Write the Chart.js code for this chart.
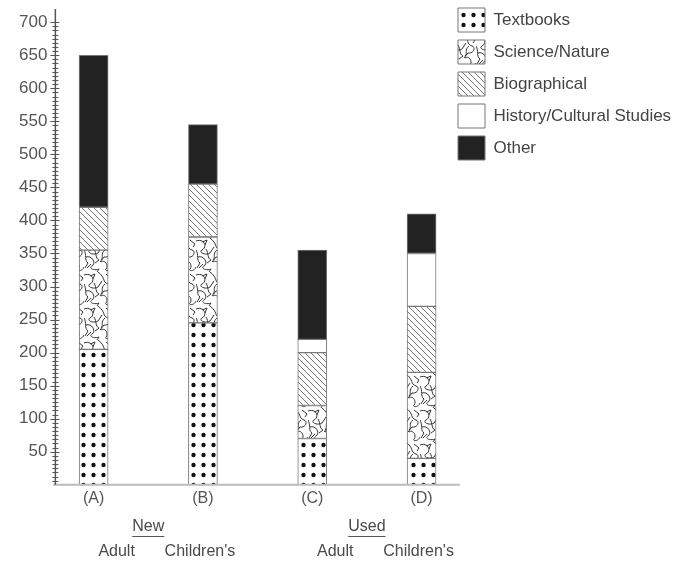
<!DOCTYPE html>
<html>
<head>
<meta charset="utf-8">
<script src="https://cdn.jsdelivr.net/npm/chart.js@4.4.0/dist/chart.umd.min.js"></script>
<style>
html, body { margin: 0; padding: 0; background: #fff; }
</style>
</head>
<body>
<canvas id="chart" width="675" height="563"></canvas>
<script>
// bar positions and labels
var categories = ['(A)', '(B)', '(C)', '(D)'];
var positions = [1, 2, 3, 4];
var groupLabels = ['New', 'Used'];
var subLabels = ['Adult', "Children's", 'Adult', "Children's"];

// stacked segments (number of books)
var seriesNames = ['Textbooks', 'Science/Nature', 'Biographical', 'History/Cultural Studies', 'Other'];
var textbooks = [205, 245, 70, 40];
var scienceNature = [150, 130, 50, 130];
var biographical = [65, 80, 80, 100];
var historyCultural = [0, 0, 20, 80];
var other = [230, 90, 135, 60];

var yTicks = [50, 100, 150, 200, 250, 300, 350, 400, 450, 500, 550, 600, 650, 700];

Chart.defaults.font.family = '"Liberation Sans", Arial, sans-serif';
Chart.defaults.color = '#4a4a4a';

var ctx = document.getElementById('chart').getContext('2d');

function makePattern(w, h, draw) {
	var c = document.createElement('canvas');
	c.width = w;
	c.height = h;
	var g = c.getContext('2d');
	g.fillStyle = '#fff';
	g.fillRect(0, 0, w, h);
	draw(g);
	return ctx.createPattern(c, 'repeat');
}

//点
var dots = makePattern(10, 10, function(g){
	g.fillStyle = '#111';
	g.beginPath();
	g.arc(3.5, 5, 2.2, 0, Math.PI * 2);
	g.fill();
});

//斜线
var hatch = makePattern(6, 6, function(g){
	g.strokeStyle = '#777';
	g.lineWidth = 1;
	g.beginPath();
	g.moveTo(0, 0); g.lineTo(6, 6);
	g.moveTo(-1, 5); g.lineTo(1, 7);
	g.moveTo(5, -1); g.lineTo(7, 1);
	g.stroke();
});

//乱线
var squiggle = makePattern(28, 34, function(g){
	g.strokeStyle = '#333';
	g.lineWidth = 1;
	g.beginPath();
	g.moveTo(0, 3); g.bezierCurveTo(8, 0, 12, 9, 6, 12); g.bezierCurveTo(2, 14, 9, 18, 14, 15); g.lineTo(18, 9);
	g.moveTo(14, 0); g.bezierCurveTo(22, 6, 18, 10, 24, 12); g.bezierCurveTo(28, 13, 26, 20, 20, 19); g.lineTo(16, 24);
	g.moveTo(2, 19); g.bezierCurveTo(9, 17, 12, 26, 8, 28); g.bezierCurveTo(4, 30, 10, 33, 15, 31); g.lineTo(13, 34);
	g.moveTo(17, 24); g.bezierCurveTo(21, 21, 25, 28, 22, 31); g.bezierCurveTo(20, 33, 26, 34, 28, 29);
	g.moveTo(10, 11); g.bezierCurveTo(13, 16, 11, 20, 15, 22); g.lineTo(11, 25);
	g.moveTo(0, 12); g.bezierCurveTo(3, 17, 0, 22, 4, 25); g.lineTo(1, 30);
	g.moveTo(21, 12); g.bezierCurveTo(16, 16, 20, 19, 17, 22);
	g.moveTo(6, 4); g.lineTo(11, 2); g.lineTo(9, 7);
	g.moveTo(22, 2); g.lineTo(27, 6); g.lineTo(25, 9);
	g.moveTo(3, 30); g.lineTo(7, 26);
	g.stroke();
});

var fills = [dots, squiggle, hatch, '#fff', '#222'];
var values = [textbooks, scienceNature, biographical, historyCultural, other];

var datasets = seriesNames.map(function(name, i){
	return {
		label: name,
		data: values[i],
		backgroundColor: fills[i],
		borderColor: '#777',
		borderWidth: 1,
		borderSkipped: false,
		barThickness: 29
	};
});

var extras = {
	id: 'extras',
	afterDraw: function(chart) {
		var c = chart.ctx;
		var ys = chart.scales.y;
		var xs = chart.scales.x;
		var left = chart.chartArea.left;
		var base = ys.getPixelForValue(0);
		c.save();
		// x axis line, runs a little under the legend
		c.strokeStyle = '#bbb';
		c.lineWidth = 2;
		c.beginPath();
		c.moveTo(left - 2, base);
		c.lineTo(xs.getPixelForValue(4.35), base);
		c.stroke();
		// y axis with ticks
		c.strokeStyle = '#555';
		c.lineWidth = 1.5;
		c.beginPath();
		c.moveTo(left, ys.getPixelForValue(720));
		c.lineTo(left, base);
		c.stroke();
		c.lineWidth = 1;
		c.beginPath();
		for (var v = 6.25; v < 700; v += 6.25) {
			var py = Math.round(ys.getPixelForValue(v)) + 0.5;
			c.moveTo(left - 3, py);
			c.lineTo(left + 3, py);
		}
		yTicks.forEach(function(t){
			var py = Math.round(ys.getPixelForValue(t)) + 0.5;
			c.moveTo(left - 5, py);
			c.lineTo(left + 4, py);
		});
		c.stroke();

		c.fillStyle = '#4a4a4a';
		c.font = '16px "Liberation Sans", Arial, sans-serif';
		c.textAlign = 'center';
		c.textBaseline = 'middle';
		groupLabels.forEach(function(g, i){
			var cx = (xs.getPixelForValue(positions[i * 2]) + xs.getPixelForValue(positions[i * 2 + 1])) / 2;
			c.fillText(g, cx, 527);
			var w = c.measureText(g).width;
			c.beginPath();
			c.moveTo(cx - w / 2, 536.5);
			c.lineTo(cx + w / 2, 536.5);
			c.stroke();
		});
		subLabels.forEach(function(s, i){
			var off = i % 2 == 0 ? 23 : -3;
			c.fillText(s, xs.getPixelForValue(positions[i]) + off, 552);
		});
		c.restore();
	}
};

var chart = new Chart(ctx, {
	type: 'bar',
	data: {
		labels: positions,
		datasets: datasets
	},
	plugins: [extras],
	options: {
		responsive: false,
		animation: false,
		devicePixelRatio: 1,
		events: [],
		layout: {
			padding: { left: 11, top: 0, right: 0, bottom: 51 }
		},
		plugins: {
			legend: {
				position: 'right',
				align: 'start',
				maxWidth: 225,
				labels: {
					boxWidth: 27,
					boxHeight: 24,
					padding: 8,
					color: '#444',
					font: { size: 17 }
				}
			},
			tooltip: { enabled: false }
		},
		scales: {
			x: {
				type: 'linear',
				stacked: true,
				offset: false,
				min: 0.65,
				max: 4.26,
				grid: { display: false, drawTicks: false },
				border: { display: false },
				afterBuildTicks: function(axis){
					axis.ticks = positions.map(function(p){ return { value: p }; });
				},
				ticks: {
					padding: 4,
					color: '#555',
					font: { size: 16 },
					callback: function(v){ return categories[positions.indexOf(v)]; }
				}
			},
			y: {
				stacked: true,
				min: 0,
				max: 706,
				grid: { display: false, drawTicks: false },
				border: { display: false },
				afterBuildTicks: function(axis){
					axis.ticks = yTicks.map(function(t){ return { value: t }; });
				},
				ticks: {
					padding: 8,
					color: '#555',
					font: { size: 17 }
				}
			}
		}
	}
});
</script>
</body>
</html>
